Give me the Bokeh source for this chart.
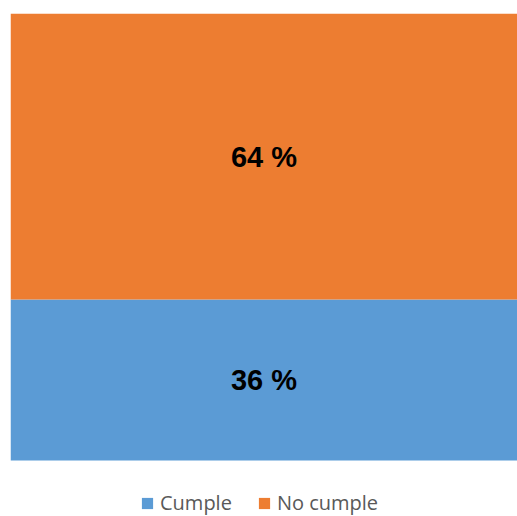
from bokeh.plotting import figure
from bokeh.models import ColumnDataSource, Range1d, Legend, LegendItem
from bokeh.core.properties import value
from bokeh.embed import file_html
from bokeh.resources import INLINE

categories = ["Total"]
series = ["Cumple", "No cumple"]
cumple = [36]
no_cumple = [64]
colors = ["#5B9BD5", "#ED7D31"]

src = ColumnDataSource(dict(x=[0.5], Cumple=cumple, **{"No cumple": no_cumple}))

# bar occupies 447px of 503px frame; lower part reserved for the legend
p = figure(width=517, height=516, output_backend="svg", toolbar_location=None,
           x_range=Range1d(0, 1), y_range=Range1d(-12.53, 100),
           min_border_left=10, min_border_right=0, min_border_top=13, min_border_bottom=0)
p.xaxis.visible = False
p.yaxis.visible = False
p.xgrid.visible = False
p.ygrid.visible = False
p.outline_line_color = None
p.background_fill_color = "white"

rs = p.vbar_stack(series, x="x", width=1, color=colors, source=src, line_color=None)

mids = [cumple[0] / 2, cumple[0] + no_cumple[0] / 2]
texts = [f"{cumple[0]} %", f"{no_cumple[0]} %"]
p.text(x=[0.5, 0.5], y=mids, text=texts, text_align="center", text_baseline="middle",
       text_font=value("Liberation Sans"), text_font_style="bold", text_font_size="29px",
       text_color="black")

legend = Legend(items=[LegendItem(label=s, renderers=[r]) for s, r in zip(series, rs)],
                orientation="horizontal", location=(130, 0),
                glyph_width=14, glyph_height=14, label_text_font_size="20px",
                label_text_font="Open Sans", label_text_color="#595959",
                border_line_color=None, background_fill_alpha=0,
                spacing=25, padding=0, margin=0, label_standoff=6)
p.add_layout(legend)

open("out.html", "w").write(file_html(p, INLINE))
